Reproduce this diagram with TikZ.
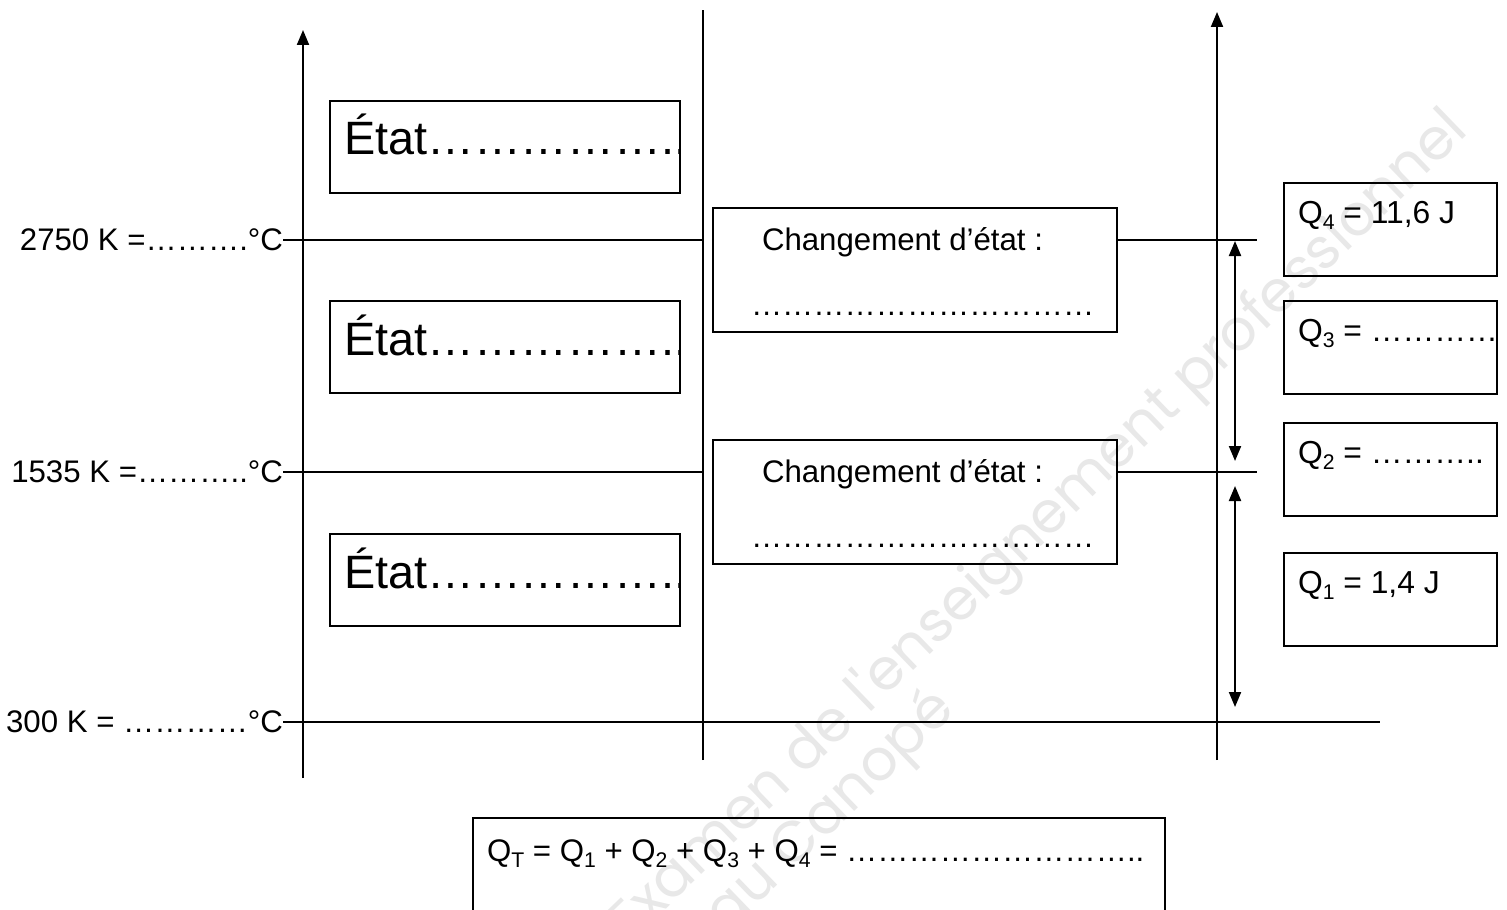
\documentclass[tikz,border=0pt]{standalone}
\usepackage{fontspec}
\setmainfont{Liberation Sans}
\newfontfamily\wmfont{Poppins}
\usetikzlibrary{arrows.meta,calc}

\newcommand\qsub[1]{\raisebox{-0.2em}{\fontsize{10.6pt}{12pt}\selectfont #1}}

\tikzset{
  rule/.style={line width=1pt},
  frame/.style={draw, line width=1pt, inner sep=0pt, outer sep=0pt, anchor=north west},
  etatbox/.style={frame, minimum width=175pt, minimum height=46pt},
  changebox/.style={frame, minimum width=202pt, minimum height=62pt},
  qbox/.style={frame, minimum width=106.5pt, minimum height=46.5pt},
  txt/.style={inner sep=0pt, outer sep=0pt, font=\fontsize{15.6pt}{18pt}\selectfont},
  qtxt/.style={inner sep=0pt, outer sep=0pt, font=\fontsize{15.9pt}{19pt}\selectfont},
  bigtxt/.style={inner sep=0pt, outer sep=0pt, font=\fontsize{23.4pt}{28pt}\selectfont},
  wm/.style={inner sep=0pt, outer sep=0pt, text=black!9, rotate=44,
             font=\wmfont\fontsize{28.6pt}{34pt}\selectfont},
  >={Triangle[length=7.5pt,width=6pt]}
}

\begin{document}
\begin{tikzpicture}[x=0.5pt, y=-0.5pt]
\clip (0,0) rectangle (1507,909);
\fill[white] (0,0) rectangle (1507,909);

% faint background stamp
\node[wm, anchor=base west] (wm1) at (630,944) {Examen de l'enseignement professionnel};
\node[wm, anchor=base east] (wm2) at (957,712) {Réseau Canopé};

% vertical axes and separator
\coordinate (axL-bot) at (303,778);
\coordinate (axL-top) at (303,30);
\coordinate (mid-top) at (703,10);
\coordinate (mid-bot) at (703,760);
\coordinate (axR-bot) at (1217,760);
\coordinate (axR-top) at (1217,12);
\draw[rule,->] (axL-bot) -- (axL-top);
\draw[rule] (mid-bot) -- (mid-top);
\draw[rule,->] (axR-bot) -- (axR-top);

% temperature labels
\node[txt, anchor=east] (t1) at (283,240) {2750 K =……….°C};
\node[txt, anchor=east] (t2) at (283,472) {1535 K =………..°C};
\node[txt, anchor=east] (t3) at (283,722) {300 K = …………°C};

% state boxes, their dotted text cut off at the right border
\node[etatbox] (e1) at (330,101) {};
\node[etatbox] (e2) at (330,301) {};
\node[etatbox] (e3) at (330,534) {};
\foreach \b in {e1,e2,e3}{
  \begin{scope}
    \clip (\b.north west) rectangle (\b.south east);
    \node[bigtxt, anchor=base west] (\b t) at ($(\b.north west)+(14,54)$) {État……………..};
  \end{scope}
}

% phase change boxes
\node[changebox] (c1) at (713,208) {};
\node[changebox] (c2) at (713,440) {};
\node[txt, anchor=base west] (c1t) at ($(c1.north west)+(49,42)$) {Changement d’état :};
\node[txt, anchor=base west] (c1d) at ($(c1.north west)+(38,107)$) {……………………………};
\node[txt, anchor=base west] (c2t) at ($(c2.north west)+(49,42)$) {Changement d’état :};
\node[txt, anchor=base west] (c2d) at ($(c2.north west)+(38,107)$) {……………………………};

% right ends of the level lines
\coordinate (r1) at (1257,240);
\coordinate (r2) at (1257,472);
\coordinate (r3) at (1380,722);

% level lines
\draw[rule] (t1.east) -- (t1.east -| mid-top);
\draw[rule] (c1.east |- r1) -- (r1);
\draw[rule] (t2.east) -- (t2.east -| mid-top);
\draw[rule] (c2.east |- r2) -- (r2);
\draw[rule] (t3.east) -- (r3);

% heat arrows
\coordinate (h4a) at (1235,241);
\coordinate (h4b) at (1235,461);
\coordinate (h1a) at (1235,486);
\coordinate (h1b) at (1235,707);
\draw[rule,<->] (h4a) -- (h4b);
\draw[rule,<->] (h1a) -- (h1b);

% heat boxes
\node[qbox] (q4) at (1284,183) {};
\node[qbox] (q3) at (1284,301) {};
\node[qbox] (q2) at (1284,423) {};
\node[qbox] (q1) at (1284,553) {};
\node[qtxt, anchor=base west] (q4t) at ($(q4.north west)+(14,40)$) {Q\qsub{4} = 11,6 J};
\begin{scope}
  \clip (q3.north west) rectangle (q3.south east);
  \node[qtxt, anchor=base west] (q3t) at ($(q3.north west)+(14,40)$) {Q\qsub{3} = …………};
\end{scope}
\node[qtxt, anchor=base west] (q2t) at ($(q2.north west)+(14,40)$) {Q\qsub{2} = ………..};
\node[qtxt, anchor=base west] (q1t) at ($(q1.north west)+(14,40)$) {Q\qsub{1} = 1,4 J};

% total heat
\node[frame, minimum width=346pt, minimum height=70pt] (qt) at (473,818) {};
\node[txt, anchor=base west] (qtt) at ($(qt.north west)+(14,43)$)
  {Q\qsub{T} = Q\qsub{1} + Q\qsub{2} + Q\qsub{3} + Q\qsub{4} = ………………………..};
\end{tikzpicture}
\end{document}
